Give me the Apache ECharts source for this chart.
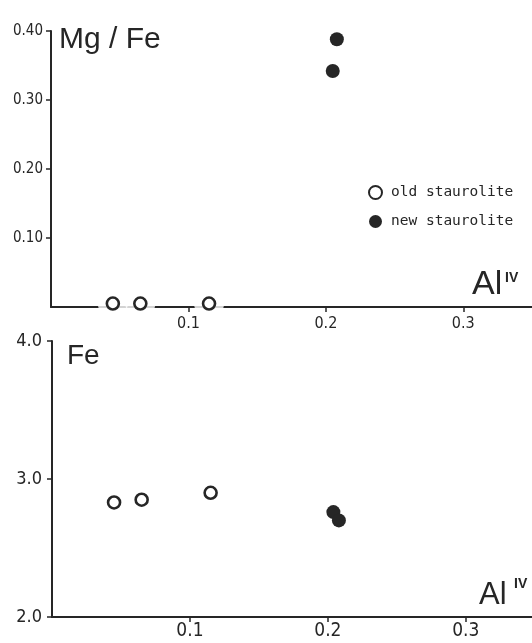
<!DOCTYPE html>
<html>
<head>
<meta charset="utf-8">
<script src="https://cdn.jsdelivr.net/npm/echarts@6/dist/echarts.min.js"></script>
<style>
html,body{margin:0;padding:0;background:#fff;}
#chart{width:532px;height:643px;}
</style>
</head>
<body>
<div id="chart"></div>
<script>
// ---- data ----
// Upper panel: Mg/Fe vs Al(IV)
var oldAlTop = [0.045, 0.065, 0.115];
var oldMgFe  = [0.005, 0.005, 0.005];
var newAlTop = [0.208, 0.205];
var newMgFe  = [0.388, 0.342];
// Lower panel: Fe vs Al(IV)
var oldAlBot = [0.045, 0.065, 0.115];
var oldFe    = [2.83, 2.85, 2.90];
var newAlBot = [0.204, 0.208];
var newFe    = [2.76, 2.70];
// tick labels
var mgFeTicks = [0.10, 0.20, 0.30, 0.40];
var feTicks = [2.0, 3.0, 4.0];
var alTicks = [0.1, 0.2, 0.3];

function pairs(xs, ys){ return xs.map(function(x,i){ return [x, ys[i]]; }); }

var INK = '#262626';
var NARROW = "'DejaVu Sans Condensed','Liberation Sans Narrow',sans-serif";
var MONO = "'DejaVu Sans Mono','Liberation Mono',monospace";
var SANS = "'Liberation Sans',Arial,sans-serif";

function xAxisFor(grid, max, fs, margin){
  return {
    type:'value', gridIndex:grid, min:0, max:max, interval:0.1,
    axisLine:{show:true, onZero:false, lineStyle:{color:INK, width:2}},
    axisTick:{show:true, length:5, lineStyle:{color:INK, width:1.5}},
    splitLine:{show:false},
    axisLabel:{
      showMinLabel:false, showMaxLabel:false, margin:margin,
      fontFamily:NARROW, fontSize:fs, color:INK,
      formatter:function(v){
        for (var i=0;i<alTicks.length;i++){ if (Math.abs(v-alTicks[i])<1e-6) return alTicks[i].toFixed(1); }
        return '';
      }
    }
  };
}

var option = {
  animation:false,
  backgroundColor:'#ffffff',
  grid:[
    {left:51, top:31, width:481, height:276},
    {left:52, top:341, width:480, height:276}
  ],
  xAxis:[ xAxisFor(0, 0.35, 16, 9), xAxisFor(1, 0.348, 19, 5) ],
  yAxis:[
    {
      type:'value', gridIndex:0, min:0, max:0.4, interval:0.1,
      axisLine:{show:true, lineStyle:{color:INK, width:2}},
      axisTick:{show:true, length:5, lineStyle:{color:INK, width:1.5}},
      splitLine:{show:false},
      axisLabel:{
        showMinLabel:false, margin:8, fontFamily:NARROW, fontSize:15, color:INK,
        formatter:function(v){
          for (var i=0;i<mgFeTicks.length;i++){ if (Math.abs(v-mgFeTicks[i])<1e-6) return mgFeTicks[i].toFixed(2); }
          return '';
        }
      }
    },
    {
      type:'value', gridIndex:1, min:2, max:4, interval:1,
      axisLine:{show:true, lineStyle:{color:INK, width:2}},
      axisTick:{show:true, length:5, lineStyle:{color:INK, width:1.5}},
      splitLine:{show:false},
      axisLabel:{
        margin:10, fontFamily:NARROW, fontSize:18, color:INK,
        formatter:function(v){
          for (var i=0;i<feTicks.length;i++){ if (Math.abs(v-feTicks[i])<1e-6) return feTicks[i].toFixed(1); }
          return '';
        }
      }
    }
  ],
  legend:{
    data:['old staurolite','new staurolite'],
    orient:'vertical', left:363, top:180,
    itemWidth:13, itemHeight:13, itemGap:14,
    textStyle:{fontFamily:MONO, fontSize:14.5, color:INK, padding:[0,0,0,4]}
  },
  series:[
    {
      name:'gap', type:'scatter', xAxisIndex:0, yAxisIndex:0, z:2, silent:true,
      symbol:'circle', symbolSize:30,
      itemStyle:{color:'#ffffff', borderWidth:0},
      data:pairs(oldAlTop, oldMgFe)
    },
    {
      name:'old staurolite', type:'scatter', xAxisIndex:0, yAxisIndex:0, z:3,
      symbol:'circle', symbolSize:12,
      itemStyle:{color:'#ffffff', borderColor:INK, borderWidth:2.6, opacity:1},
      data:pairs(oldAlTop, oldMgFe)
    },
    {
      name:'new staurolite', type:'scatter', xAxisIndex:0, yAxisIndex:0, z:3,
      symbol:'circle', symbolSize:14,
      itemStyle:{color:INK, opacity:1},
      data:pairs(newAlTop, newMgFe)
    },
    {
      name:'old staurolite', type:'scatter', xAxisIndex:1, yAxisIndex:1, z:3,
      symbol:'circle', symbolSize:12,
      itemStyle:{color:'#ffffff', borderColor:INK, borderWidth:2.6, opacity:1},
      data:pairs(oldAlBot, oldFe)
    },
    {
      name:'new staurolite', type:'scatter', xAxisIndex:1, yAxisIndex:1, z:3,
      symbol:'circle', symbolSize:14,
      itemStyle:{color:INK, opacity:1},
      data:pairs(newAlBot, newFe)
    }
  ],
  graphic:[
    {type:'text', left:59, top:25, style:{text:'Mg / Fe', font:'30px '+SANS, fill:INK}},
    {type:'text', left:67, top:342, style:{text:'Fe', font:'28px '+SANS, fill:INK}},
    {type:'text', left:472, top:268, style:{text:'Al', font:'34px '+SANS, fill:INK}},
    {type:'text', left:505, top:271, style:{text:'IV', font:'bold 14px '+SANS, fill:INK}},
    {type:'text', left:479, top:580, style:{text:'Al', font:'31px '+SANS, fill:INK}},
    {type:'text', left:514, top:577, style:{text:'IV', font:'bold 14px '+SANS, fill:INK}}
  ]
};

var chart = echarts.init(document.getElementById('chart'), null, {renderer:'canvas'});
chart.setOption(option);
</script>
</body>
</html>
